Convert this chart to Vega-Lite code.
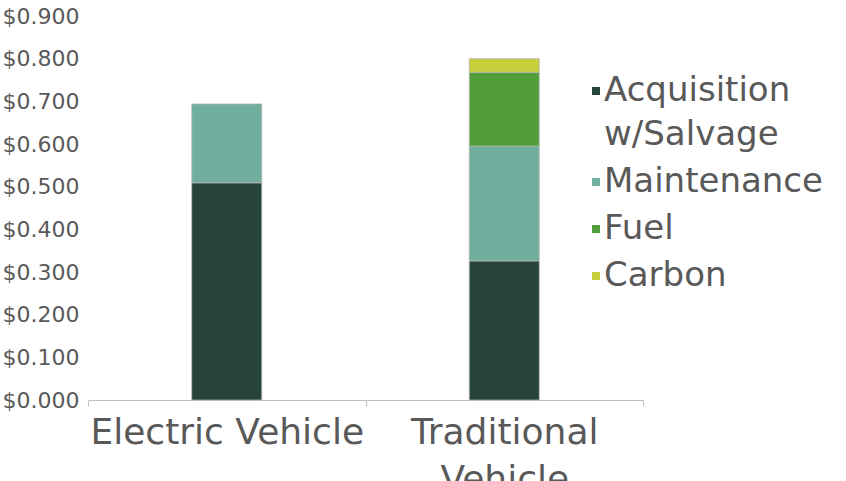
{
  "$schema": "https://vega.github.io/schema/vega-lite/v6.json",
  "width": 555,
  "height": 384,
  "autosize": "none",
  "padding": {"left": 88, "top": 16, "right": 203, "bottom": 81},
  "background": "white",
  "config": {"view": {"stroke": null}, "style": {"guide-label": {"lineHeight": 44}}},
  "data": {
    "values": [
      {"vehicle": "Electric Vehicle", "component": "Acquisition w/Salvage", "idx": 1, "cost": 0.509},
      {"vehicle": "Electric Vehicle", "component": "Maintenance", "idx": 2, "cost": 0.185},
      {"vehicle": "Traditional Vehicle", "component": "Acquisition w/Salvage", "idx": 1, "cost": 0.326},
      {"vehicle": "Traditional Vehicle", "component": "Maintenance", "idx": 2, "cost": 0.269},
      {"vehicle": "Traditional Vehicle", "component": "Fuel", "idx": 3, "cost": 0.173},
      {"vehicle": "Traditional Vehicle", "component": "Carbon", "idx": 4, "cost": 0.032}
    ]
  },
  "mark": {"type": "bar", "width": 70, "stroke": "#b5b5b5", "strokeWidth": 0.75},
  "encoding": {
    "x": {
      "field": "vehicle",
      "type": "nominal",
      "sort": ["Electric Vehicle", "Traditional Vehicle"],
      "scale": {"paddingInner": 0, "paddingOuter": 0},
      "title": null,
      "axis": {
        "labelAngle": 0,
        "labelFont": "DejaVu Sans",
        "labelFontSize": 36,
        "labelColor": "#595959",
        "labelPadding": 9,
        "labelLineHeight": 47,
        "labelLimit": 1000,
        "labelOverlap": false,
        "labelExpr": "datum.label == 'Traditional Vehicle' ? ['Traditional', 'Vehicle'] : datum.label",
        "domainColor": "#bfbfbf",
        "tickColor": "#bfbfbf",
        "tickSize": 6,
        "tickBand": "extent",
        "grid": false
      }
    },
    "y": {
      "field": "cost",
      "type": "quantitative",
      "stack": "zero",
      "scale": {"domain": [0, 0.9], "nice": false},
      "title": null,
      "axis": {
        "values": [0, 0.1, 0.2, 0.3, 0.4, 0.5, 0.6, 0.7, 0.8, 0.9],
        "format": "$.3f",
        "grid": false,
        "domain": false,
        "ticks": false,
        "labelPadding": 9,
        "labelFont": "DejaVu Sans",
        "labelFontSize": 22,
        "labelColor": "#595959"
      }
    },
    "color": {
      "field": "component",
      "type": "nominal",
      "scale": {
        "domain": ["Acquisition w/Salvage", "Maintenance", "Fuel", "Carbon"],
        "range": ["#27443b", "#70ae9e", "#529e3a", "#c8cf3a"]
      },
      "legend": {
        "title": null,
        "orient": "none",
        "legendX": 491,
        "legendY": 58,
        "symbolType": "square",
        "symbolSize": 64,
        "symbolStrokeWidth": 0,
        "labelFont": "DejaVu Sans",
        "labelFontSize": 34,
        "labelColor": "#595959",
        "labelOffset": -9,
        "labelLimit": 1000,
        "rowPadding": 13,
        "labelExpr": "datum.label == 'Acquisition w/Salvage' ? ['Acquisition', 'w/Salvage'] : datum.label",
        "encode": {
          "labels": {
            "update": {
              "lineHeight": {"value": 44},
              "dy": {"signal": "datum.value === 'Acquisition w/Salvage' ? -20 : 0"}
            }
          }
        }
      }
    },
    "order": {"field": "idx", "type": "quantitative"}
  }
}
